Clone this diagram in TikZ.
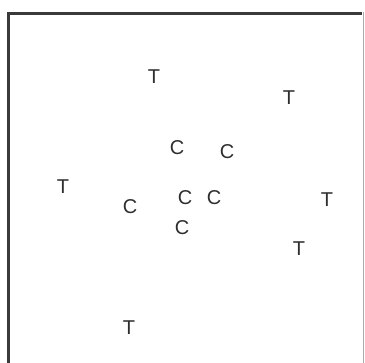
\documentclass[tikz,border=0pt]{standalone}
\usepackage{fontspec}
\setmainfont{Liberation Sans}
\usetikzlibrary{positioning}
\definecolor{ink}{HTML}{2E2E2E}
\definecolor{rim}{HTML}{3A3A3A}
\definecolor{edge}{HTML}{AAAAAA}
\tikzset{
  letter/.style={inner sep=0pt,text=ink,font=\fontsize{20}{20}\selectfont},
  frame/.style={draw=rim,line width=3pt},
}

\begin{document}
\begin{tikzpicture}[x=1pt,y=-1pt]
  \useasboundingbox (0,0) rectangle (365,363);
  % frame, open at the bottom
  \draw[frame] (8.5,363) -- (8.5,13.5) -- (362,13.5);
  \draw[draw=edge,line width=1.5pt] (363.5,12) -- (363.5,363);
  % targets
  \node[letter] (t1) at (154,77)  {T};
  \node[letter] (t2) at (289,98)  {T};
  \node[letter] (t3) at (63,187)  {T};
  \node[letter] (t4) at (327,200) {T};
  \node[letter] (t5) at (299,249) {T};
  \node[letter] (t6) at (129,328) {T};
  % clutter
  \node[letter] (c1) at (177,148) {C};
  \node[letter] (c2) at (227,152) {C};
  \node[letter] (c3) at (185,198) {C};
  \node[letter] (c4) at (214,198) {C};
  \node[letter] (c5) at (130,207) {C};
  \node[letter] (c6) at (182,228) {C};
\end{tikzpicture}
\end{document}
